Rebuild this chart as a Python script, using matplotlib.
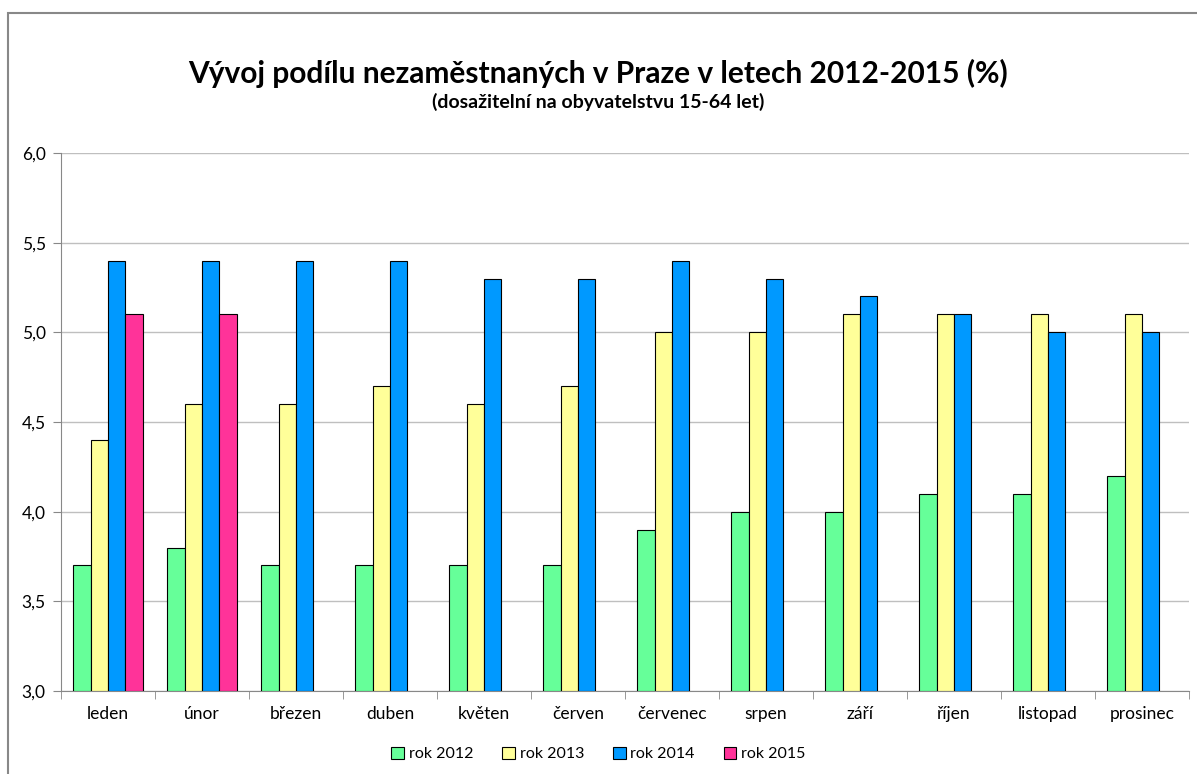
import matplotlib.pyplot as plt
import numpy as np
from matplotlib.patches import Rectangle
from matplotlib.ticker import FixedLocator, FuncFormatter

months = ["leden", "únor", "březen", "duben", "květen", "červen",
          "červenec", "srpen", "září", "říjen", "listopad", "prosinec"]
rok_2012 = [3.7, 3.8, 3.7, 3.7, 3.7, 3.7, 3.9, 4.0, 4.0, 4.1, 4.1, 4.2]
rok_2013 = [4.4, 4.6, 4.6, 4.7, 4.6, 4.7, 5.0, 5.0, 5.1, 5.1, 5.1, 5.1]
rok_2014 = [5.4, 5.4, 5.4, 5.4, 5.3, 5.3, 5.4, 5.3, 5.2, 5.1, 5.0, 5.0]
rok_2015 = [5.1, 5.1]
series_names = ["rok 2012", "rok 2013", "rok 2014", "rok 2015"]
colors = ["#66FF99", "#FFFF99", "#0099FF", "#FF3399"]

plt.rcParams['font.family'] = ['Lato', 'DejaVu Sans']

fig = plt.figure(figsize=(11.97, 7.74), dpi=100)
ax = fig.add_axes([61 / 1197, 1 - 691 / 774, (1189 - 61) / 1197, (691 - 153) / 774])

# outer chart border (only top/left visible in the picture)
fig.patches.append(Rectangle((8 / 1197, -0.05), 1.2, 1 - 13 / 774 + 0.05,
                             transform=fig.transFigure, fill=False,
                             edgecolor="#888888", linewidth=1.5))

x = np.arange(len(months))
w = 0.185
data = [rok_2012, rok_2013, rok_2014, rok_2015]
for i, (vals, name, c) in enumerate(zip(data, series_names, colors)):
    xs = x[:len(vals)] + (i - 1.5) * w
    ax.bar(xs, np.array(vals) - 3.0, width=w, bottom=3.0, color=c,
           edgecolor="black", linewidth=0.8, label=name, zorder=3)

ax.set_xlim(-0.5, 11.5)
ax.set_ylim(3.0, 6.0)
ax.set_yticks(np.arange(3.0, 6.01, 0.5))
ax.yaxis.set_major_formatter(FuncFormatter(lambda v, p: f"{v:.1f}".replace(".", ",")))
ax.set_xticks(x)
ax.set_xticklabels(months, fontsize=12.5)
ax.xaxis.set_minor_locator(FixedLocator(np.arange(-0.5, 12, 1)))
ax.tick_params(axis="x", which="major", length=0, pad=11)
ax.tick_params(axis="x", which="minor", length=6, color="#888888")
ax.tick_params(axis="y", length=6, color="#888888", labelsize=12.5, pad=5)
ax.grid(axis="y", color="#BFBFBF", linewidth=1, zorder=0)
for s in ["top", "right"]:
    ax.spines[s].set_visible(False)
for s in ["left", "bottom"]:
    ax.spines[s].set_color("#888888")

fig.text(0.5, 1 - 73 / 774, "Vývoj podílu nezaměstnaných v Praze v letech 2012-2015 (%)",
         ha="center", va="center", fontsize=21.5, fontweight="bold")
fig.text(0.5, 1 - 102 / 774, "(dosažitelní na obyvatelstvu 15-64 let)",
         ha="center", va="center", fontsize=14, fontweight="bold")

fig.legend(loc="center", bbox_to_anchor=(0.5, 1 - 754 / 774), ncol=4, frameon=False,
           fontsize=11.5, handlelength=0.8, handleheight=0.8, handletextpad=0.3,
           columnspacing=1.8)

fig.savefig("out.png", dpi=100)
